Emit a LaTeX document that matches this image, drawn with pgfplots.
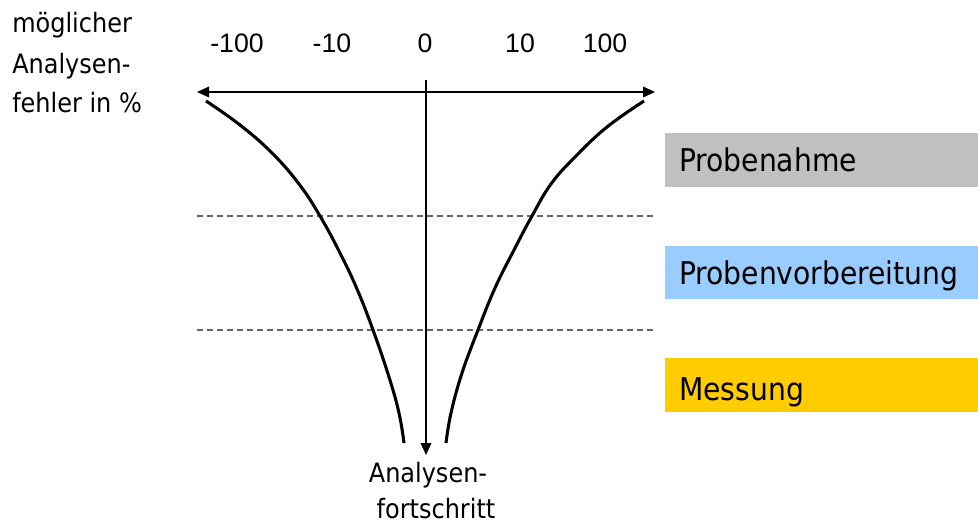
\documentclass[border=0pt]{standalone}
\usepackage{pgfplots}
\pgfplotsset{compat=1.18}
\usepackage{fontspec}
\setmainfont{DejaVu Sans Condensed}
\newfontfamily\tickfont{Liberation Sans}
\usetikzlibrary{arrows.meta}
\definecolor{boxgray}{HTML}{C0C0C0}
\definecolor{boxblue}{HTML}{99CCFF}
\definecolor{boxyellow}{HTML}{FFCC00}
\begin{document}
\begin{tikzpicture}
\begin{axis}[
  x=0.75pt, y=0.75pt,
  xmin=0, xmax=978, ymin=0, ymax=527,
  y dir=reverse,
  axis lines=none,
  clip=false,
]
\coordinate (BL) at (axis cs:0,527);
\coordinate (TR) at (axis cs:978,0);
% boxes
\addplot[draw=none, fill=boxgray] coordinates {(665,133) (978,133) (978,187) (665,187)} -- cycle;
\addplot[draw=none, fill=boxblue] coordinates {(665,246) (978,246) (978,299) (665,299)} -- cycle;
\addplot[draw=none, fill=boxyellow] coordinates {(665,358) (978,358) (978,412) (665,412)} -- cycle;
% dashed lines
\addplot[gray!80!black, line width=0.9pt, dash pattern=on 4.5pt off 3pt] coordinates {(197,216) (655,216)};
\addplot[gray!80!black, line width=0.9pt, dash pattern=on 4.5pt off 3pt] coordinates {(197,330) (655,330)};
% axes arrows
\addplot[black, line width=1.1pt, {Triangle[length=9pt,width=8pt]}-{Triangle[length=9pt,width=8pt]}] coordinates {(197,92) (655,92)};
\addplot[black, line width=1pt, -{Triangle[length=9pt,width=8pt]}] coordinates {(426,80) (426,455)};
% curves
\addplot[black, line width=2.3pt, smooth, tension=0.7] coordinates {
 (206,101) (240,125) (272,153) (299,184) (320,216) (340,253) (357,289) (373,330) (389,377) (399,413) (404,443)};
\addplot[black, line width=2.3pt, smooth, tension=0.7] coordinates {
 (644,101) (607,127) (575,157) (551,184) (532,216) (514,250) (495,288) (478,330) (462,373) (451,413) (446,443)};
% tick labels
\node[anchor=base, inner sep=0, font=\tickfont\fontsize{20}{24}\selectfont] at (axis cs:237,53) {-100};
\node[anchor=base, inner sep=0, font=\tickfont\fontsize{20}{24}\selectfont] at (axis cs:332,53) {-10};
\node[anchor=base, inner sep=0, font=\tickfont\fontsize{20}{24}\selectfont] at (axis cs:425,53) {0};
\node[anchor=base, inner sep=0, font=\tickfont\fontsize{20}{24}\selectfont] at (axis cs:520,53) {10};
\node[anchor=base, inner sep=0, font=\tickfont\fontsize{20}{24}\selectfont] at (axis cs:605,53) {100};
% left label
\node[anchor=base west, inner sep=0, font=\fontsize{20}{24}\selectfont] at (axis cs:12,33) {möglicher};
\node[anchor=base west, inner sep=0, font=\fontsize{20}{24}\selectfont] at (axis cs:12,74) {Analysen-};
\node[anchor=base west, inner sep=0, font=\fontsize{20}{24}\selectfont] at (axis cs:12,113) {fehler in \%};
% bottom label
\node[anchor=base, inner sep=0, font=\fontsize{20}{24}\selectfont] at (axis cs:428,482) {Analysen-};
\node[anchor=base, inner sep=0, font=\fontsize{20}{24}\selectfont] at (axis cs:436,518) {fortschritt};
% box labels
\node[anchor=base west, inner sep=0, font=\fontsize{23.5}{28}\selectfont] at (axis cs:679,172) {Probenahme};
\node[anchor=base west, inner sep=0, font=\fontsize{23.5}{28}\selectfont] at (axis cs:679,285) {Probenvorbereitung};
\node[anchor=base west, inner sep=0, font=\fontsize{23.5}{28}\selectfont] at (axis cs:679,400) {Messung};
\end{axis}
\pgfresetboundingbox
\path (BL) rectangle (TR);
\end{tikzpicture}
\end{document}
